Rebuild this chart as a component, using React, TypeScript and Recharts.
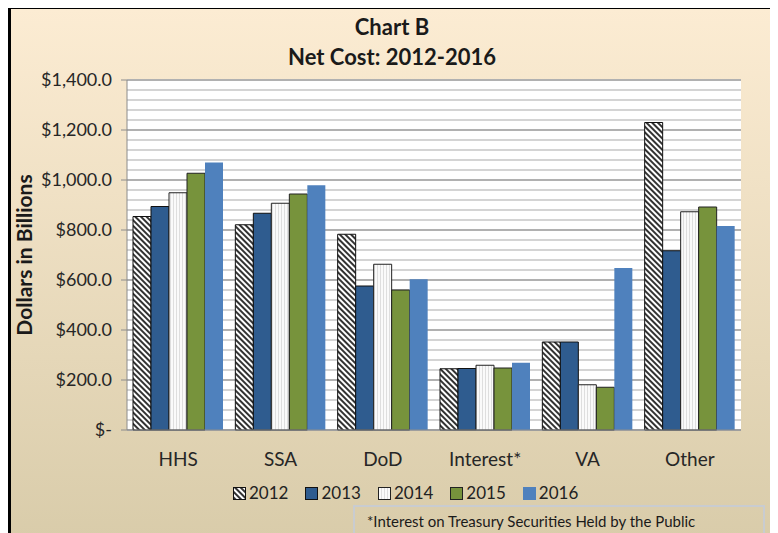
import React from "react"
import {
  BarChart,
  Bar,
  XAxis,
  YAxis,
  CartesianGrid
} from "recharts"

const categories = ["HHS", "SSA", "DoD", "Interest*", "VA", "Other"]
const years = ["2012", "2013", "2014", "2015", "2016"]

const net2012 = [854, 821, 783, 245, 352, 1230]
const net2013 = [894, 867, 576, 246, 352, 717]
const net2014 = [949, 907, 663, 259, 181, 873]
const net2015 = [1027, 944, 560, 248, 171, 892]
const net2016 = [1070, 979, 603, 269, 648, 816]

const yTicks = [0, 200, 400, 600, 800, 1000, 1200, 1400]
const minorTicks = Array.from({ length: 36 }, (_, i) => i * 40)

const seriesValues = [net2012, net2013, net2014, net2015, net2016]

const data = categories.map((name, i) => {
  const row: any = { name }
  years.forEach((y, k) => {
    row[y] = seriesValues[k][i]
  })
  return row
})

const barStyles: Record<string, { fill: string; stroke: string }> = {
  "2012": { fill: "url(#hatch2012)", stroke: "#111" },
  "2013": { fill: "#2F5C8F", stroke: "#111" },
  "2014": { fill: "url(#dots2014)", stroke: "#222" },
  "2015": { fill: "#77933C", stroke: "#222" },
  "2016": { fill: "#4F81BD", stroke: "none" }
}

const font = "Lato, 'Open Sans', sans-serif"

function fmtDollar(v: number) {
  if (v === 0) return "$-"
  return "$" + v.toLocaleString("en-US", { minimumFractionDigits: 1, maximumFractionDigits: 1 })
}

function LegendRow() {
  return (
    <div
      style={{
        position: "absolute",
        left: 222,
        top: 473,
        display: "flex",
        alignItems: "center",
        fontFamily: font,
        fontSize: 17,
        lineHeight: "22px",
        color: "#222"
      }}
    >
      {years.map(y => (
        <div key={y} style={{ display: "flex", alignItems: "center", marginRight: 17 }}>
          <svg width={13} height={13} style={{ marginRight: 3 }}>
            <rect
              x={0.5}
              y={0.5}
              width={12}
              height={12}
              fill={barStyles[y].fill}
              stroke={barStyles[y].stroke === "none" ? "#4F81BD" : barStyles[y].stroke}
            />
          </svg>
          <span>{y}</span>
        </div>
      ))}
    </div>
  )
}

export default function App() {
  return (
    <div
      style={{
        position: "relative",
        width: 762,
        height: 530,
        marginTop: -2,
        border: "3px solid #000",
        borderBottom: "none",
        background: "linear-gradient(#FCECD3, #D9CCAA)",
        fontFamily: font,
        overflow: "hidden"
      }}
    >
      <svg width={0} height={0} style={{ position: "absolute" }}>
        <defs>
          <pattern id="hatch2012" width={4} height={4} patternUnits="userSpaceOnUse" patternTransform="rotate(-45)">
            <rect width={4} height={4} fill="#fff" />
            <rect width={2} height={4} fill="#333" />
          </pattern>
          <pattern id="dots2014" width={3} height={3} patternUnits="userSpaceOnUse">
            <rect width={3} height={3} fill="#fafafa" />
            <rect width={1} height={3} fill="#dedede" />
          </pattern>
        </defs>
      </svg>

      <div style={{ position: "absolute", top: 4, width: "100%", textAlign: "center", fontWeight: 700, fontSize: 22, lineHeight: "28px", color: "#1a1a1a" }}>
        Chart B
      </div>
      <div style={{ position: "absolute", top: 34, width: "100%", textAlign: "center", fontWeight: 700, fontSize: 22, lineHeight: "28px", color: "#1a1a1a" }}>
        Net Cost: 2012-2016
      </div>

      <div
        style={{
          position: "absolute",
          left: 12,
          top: 246,
          transform: "translate(-50%, -50%) rotate(-90deg)",
          whiteSpace: "nowrap",
          fontWeight: 700,
          fontSize: 21,
          color: "#1a1a1a"
        }}
      >
        Dollars in Billions
      </div>

      <div style={{ position: "absolute", left: 0, top: 0 }}>
        <BarChart
          width={762}
          height={520}
          data={data}
          margin={{ top: 71, right: 32, left: 10, bottom: 59 }}
          barCategoryGap={6}
          barGap={0}
        >
          <CartesianGrid
            vertical={false}
            horizontalValues={minorTicks}
            stroke="#d4d4d4"
            strokeWidth={2}
            fill="#ffffff"
          />
          <CartesianGrid
            vertical={false}
            horizontalValues={yTicks}
            stroke="#a6a6a6"
            strokeWidth={1.5}
          />
          <XAxis
            dataKey="name"
            height={40}
            tickLine={false}
            tickSize={0}
            tickMargin={23}
            stroke="#8c8c8c"
            tick={{ fill: "#262626", fontSize: 19, fontFamily: font }}
          />
          <YAxis
            width={106}
            domain={[0, 1400]}
            ticks={yTicks}
            interval={0}
            tickSize={6}
            tickMargin={9}
            stroke="#8c8c8c"
            tickFormatter={fmtDollar}
            tick={{ fill: "#262626", fontSize: 18, fontFamily: font }}
          />
          {years.map(y => (
            <Bar
              key={y}
              dataKey={y}
              fill={barStyles[y].fill}
              stroke={barStyles[y].stroke}
              strokeWidth={1}
              isAnimationActive={false}
            />
          ))}
        </BarChart>
      </div>

      <LegendRow />

      <div
        style={{
          position: "absolute",
          left: 342,
          top: 496,
          width: 412,
          height: 40,
          border: "2px solid #c9ccd0",
          boxSizing: "border-box",
          fontSize: 15,
          color: "#1a1a1a",
          paddingLeft: 12,
          paddingTop: 5,
          lineHeight: "18px",
          whiteSpace: "nowrap"
        }}
      >
        *Interest on Treasury Securities Held by the Public
      </div>
    </div>
  )
}
